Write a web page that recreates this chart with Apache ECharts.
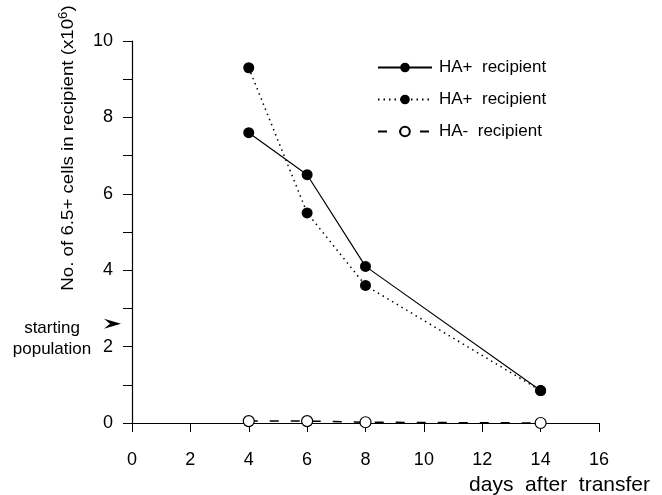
<!DOCTYPE html>
<html>
<head>
<meta charset="utf-8">
<script src="https://cdn.jsdelivr.net/npm/echarts@6/dist/echarts.min.js"></script>
<style>
  html, body { margin: 0; padding: 0; background: #fff; }
  #main { width: 662px; height: 495px; }
</style>
</head>
<body>
<div id="main"></div>
<script>
// days after transfer
const days = [4, 6, 8, 14];
const haPosSolid = [7.6, 6.5, 4.1, 0.85];
const haPosDotted = [9.3, 5.5, 3.6, 0.85];
const haNeg = [0.05, 0.05, 0.02, 0.0];
const xTicks = [0, 2, 4, 6, 8, 10, 12, 14, 16];
const yTicks = [0, 2, 4, 6, 8, 10];
const startingPopulation = 2.6;

const FONT = "'Liberation Sans', Arial, sans-serif";

const pairs = (ys) => days.map((d, i) => [d, ys[i]]);

const myChart = echarts.init(document.getElementById('main'));

myChart.setOption({
  animation: false,
  backgroundColor: '#fff',
  grid: { left: 132, right: 63, top: 41, bottom: 72 },
  legend: {
    orient: 'vertical',
    left: 372,
    top: 54,
    itemWidth: 54,
    itemHeight: 12,
    itemGap: 15,
    textStyle: { fontFamily: FONT, fontSize: 17, color: '#000', padding: [0, 0, 0, 2] },
    data: ['HA+  recipient', 'HA+  recipient ', 'HA-  recipient']
  },
  xAxis: {
    type: 'value',
    min: xTicks[0],
    max: xTicks[xTicks.length - 1],
    interval: 2,
    splitLine: { show: false },
    axisLine: { lineStyle: { color: '#000', width: 1.2 } },
    axisTick: { length: 9, lineStyle: { color: '#000' } },
    axisLabel: { color: '#000', fontFamily: FONT, fontSize: 18, margin: 28 }
  },
  yAxis: {
    type: 'value',
    min: yTicks[0],
    max: yTicks[yTicks.length - 1],
    interval: 2,
    splitLine: { show: false },
    axisLine: { show: true, lineStyle: { color: '#000', width: 1.2 } },
    axisTick: { length: 9, lineStyle: { color: '#000' } },
    minorTick: { show: true, splitNumber: 2, length: 9, lineStyle: { color: '#000' } },
    axisLabel: { color: '#000', fontFamily: FONT, fontSize: 18, margin: 19 }
  },
  series: [
    {
      name: 'HA+  recipient',
      type: 'line',
      symbol: 'circle',
      symbolSize: 11,
      itemStyle: { color: '#000' },
      lineStyle: { color: '#000', width: 1.2, type: 'solid' },
      data: pairs(haPosSolid)
    },
    {
      name: 'HA+  recipient ',
      type: 'line',
      symbol: 'circle',
      symbolSize: 11,
      itemStyle: { color: '#000' },
      lineStyle: { color: '#000', width: 1.5, type: [1.5, 4] },
      data: pairs(haPosDotted)
    },
    {
      name: 'HA-  recipient',
      type: 'line',
      symbol: 'circle',
      symbolSize: 11,
      itemStyle: { color: '#fff', borderColor: '#000', borderWidth: 1.2 },
      lineStyle: { color: '#000', width: 1.5, type: [9, 12] },
      data: pairs(haNeg)
    }
  ]
});

// y-axis title and starting-population marker
const arrowPos = myChart.convertToPixel({ gridIndex: 0 }, [0, startingPopulation]);
const ax = arrowPos[0], ay = arrowPos[1];

myChart.setOption({
  graphic: [
    {
      type: 'text',
      x: 68,
      y: 148,
      rotation: Math.PI / 2,
      scaleX: 1.1,
      style: {
        text: '{n|No. of 6.5+ cells in recipient (x10}{s|6}{n|)}',
        align: 'center',
        verticalAlign: 'middle',
        rich: {
          n: { fontFamily: FONT, fontSize: 17, fill: '#000' },
          s: { fontFamily: FONT, fontSize: 12, fill: '#000', verticalAlign: 'top', padding: [0, 0, 8, 0] }
        }
      }
    },
    {
      type: 'polygon',
      shape: {
        points: [
          [ax - 11, ay],
          [ax - 28, ay - 5],
          [ax - 22, ay],
          [ax - 28, ay + 5]
        ]
      },
      style: { fill: '#000' }
    },
    {
      type: 'text',
      x: 52,
      y: ay + 15,
      style: {
        text: 'starting\npopulation',
        align: 'center',
        verticalAlign: 'middle',
        lineHeight: 21,
        fontFamily: FONT,
        fontSize: 17,
        fill: '#000'
      }
    },
    {
      type: 'text',
      x: 650,
      y: 485,
      style: {
        text: 'days  after  transfer',
        align: 'right',
        verticalAlign: 'middle',
        fontFamily: FONT,
        fontSize: 21,
        fill: '#000'
      }
    }
  ]
});
</script>
</body>
</html>
